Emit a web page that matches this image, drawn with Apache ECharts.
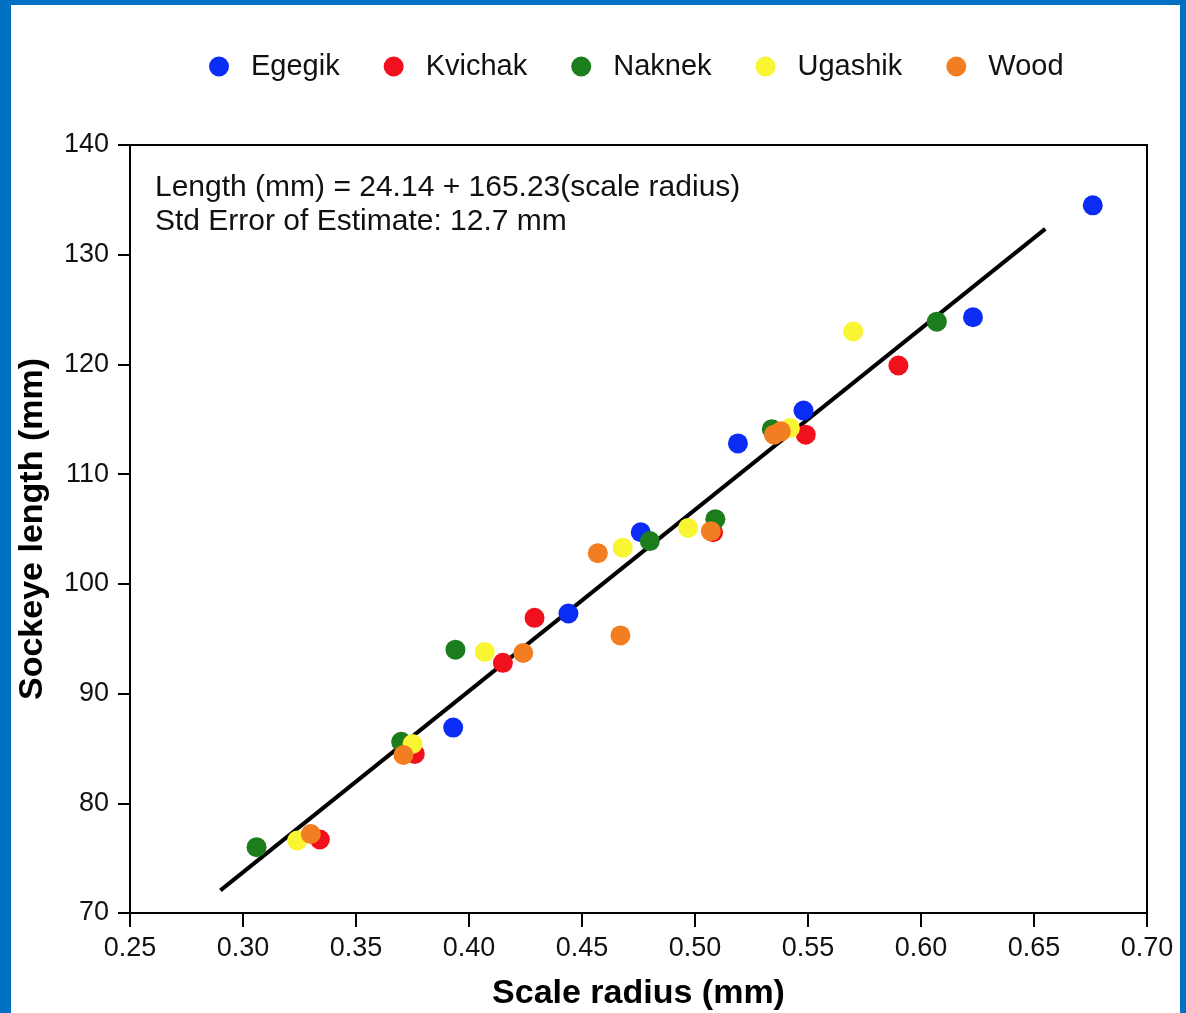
<!DOCTYPE html>
<html>
<head>
<meta charset="utf-8">
<script src="https://cdn.jsdelivr.net/npm/echarts@6/dist/echarts.min.js"></script>
<style>
  html, body { margin: 0; padding: 0; width: 1186px; height: 1013px; background: #0071c2; overflow: hidden; }
  #paper { position: absolute; left: 11px; top: 5px; width: 1169px; height: 1008px; background: #fff; }
  #chart { position: absolute; left: 0; top: 0; width: 1186px; height: 1013px; }
</style>
</head>
<body>
<div id="paper"></div>
<div id="chart"></div>
<script>
// scale radius (mm), sockeye length (mm) per river
var egegik  = [[0.676, 134.5], [0.623, 124.3], [0.548, 115.8], [0.519, 112.8], [0.476, 104.7], [0.444, 97.3], [0.393, 86.9]];
var kvichak = [[0.590, 119.9], [0.549, 113.6], [0.508, 104.7], [0.429, 96.9], [0.415, 92.8], [0.376, 84.5], [0.334, 76.7]];
var naknek  = [[0.607, 123.9], [0.534, 114.1], [0.509, 105.9], [0.480, 103.9], [0.394, 94.0], [0.370, 85.6], [0.306, 76.0]];
var ugashik = [[0.570, 123.0], [0.542, 114.2], [0.497, 105.1], [0.468, 103.3], [0.407, 93.8], [0.375, 85.4], [0.324, 76.6]];
var wood    = [[0.538, 113.9], [0.535, 113.6], [0.507, 104.8], [0.457, 102.8], [0.467, 95.3], [0.424, 93.7], [0.371, 84.4], [0.330, 77.2]];

// fitted line end points: Length = 24.14 + 165.23 * radius
var fitLine = [[0.290, 72.06], [0.655, 132.36]];

var xTicks = [0.25, 0.70, 0.05];
var yTicks = [70, 140, 10];

var font = '"Liberation Sans", Arial, Helvetica, sans-serif';

var chart = echarts.init(document.getElementById('chart'));

function pts(name, data, color) {
    return {
        name: name,
        type: 'scatter',
        data: data,
        symbol: 'circle',
        symbolSize: 20,
        itemStyle: { color: color, opacity: 1 },
        z: 3
    };
}

chart.setOption({
    animation: false,
    backgroundColor: 'transparent',
    textStyle: { fontFamily: font },
    legend: {
        data: ['Egegik', 'Kvichak', 'Naknek', 'Ugashik', 'Wood'],
        left: 204,
        top: 47,
        icon: 'circle',
        itemWidth: 20,
        itemHeight: 20,
        itemGap: 44,
        textStyle: { fontSize: 29, color: '#111', fontFamily: font, padding: [0, 0, 0, 17] }
    },
    grid: {
        left: 130,
        right: 39,
        top: 145,
        bottom: 100,
        outerBoundsMode: 'none',
        show: true,
        borderColor: '#000',
        borderWidth: 2,
        backgroundColor: 'transparent'
    },
    xAxis: {
        type: 'value',
        min: xTicks[0],
        max: xTicks[1],
        interval: xTicks[2],
        name: 'Scale radius (mm)',
        nameLocation: 'middle',
        nameGap: 64,
        nameTextStyle: { fontSize: 34, fontWeight: 'bold', color: '#000', fontFamily: font },
        axisLine: { lineStyle: { color: '#000', width: 2 } },
        axisTick: { length: 14, lineStyle: { color: '#000', width: 2 } },
        axisLabel: {
            margin: 22, fontSize: 27, color: '#111', fontFamily: font,
            formatter: function (v) { return v.toFixed(2); }
        },
        splitLine: { show: false }
    },
    yAxis: {
        type: 'value',
        min: yTicks[0],
        max: yTicks[1],
        interval: yTicks[2],
        name: 'Sockeye length (mm)',
        nameLocation: 'middle',
        nameGap: 80,
        nameTextStyle: { fontSize: 34, fontWeight: 'bold', color: '#000', fontFamily: font },
        axisLine: { lineStyle: { color: '#000', width: 2 } },
        axisTick: { length: 12, lineStyle: { color: '#000', width: 2 } },
        axisLabel: { margin: 21, fontSize: 27, color: '#111', fontFamily: font },
        splitLine: { show: false }
    },
    graphic: [{
        type: 'text',
        left: 155,
        top: 171,
        style: {
            text: 'Length (mm) = 24.14 + 165.23(scale radius)\nStd Error of Estimate: 12.7 mm',
            font: '30px ' + font,
            lineHeight: 34,
            fill: '#111'
        }
    }],
    series: [
        {
            name: 'fit',
            type: 'line',
            data: fitLine,
            symbol: 'none',
            lineStyle: { color: '#000', width: 4 },
            z: 2
        },
        pts('Egegik', egegik, '#0b2cf5'),
        pts('Kvichak', kvichak, '#f0101e'),
        pts('Naknek', naknek, '#1b7d1b'),
        pts('Ugashik', ugashik, '#f9f533'),
        pts('Wood', wood, '#f37e22')
    ]
});
</script>
</body>
</html>
